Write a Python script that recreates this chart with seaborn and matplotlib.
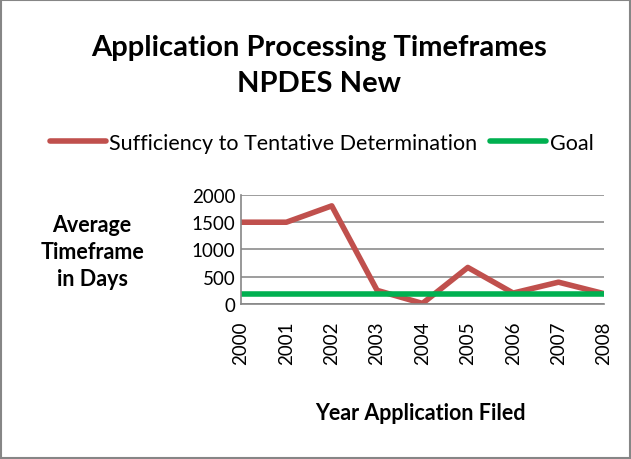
import pandas as pd
import matplotlib
matplotlib.use("Agg")
import matplotlib.pyplot as plt
from matplotlib.lines import Line2D
import seaborn as sns

# data
years = [2000, 2001, 2002, 2003, 2004, 2005, 2006, 2007, 2008]
sufficiency = [1500, 1500, 1800, 250, 10, 670, 200, 400, 190]
goal = [180] * len(years)

df = pd.DataFrame({'Year': years,
                   'Sufficiency to Tentative Determination': sufficiency,
                   'Goal': goal})
long_df = df.melt(id_vars='Year', var_name='Series', value_name='Days')

sns.set_style("white", {'text.color': 'black', 'xtick.color': 'black', 'ytick.color': 'black'})
plt.rcParams['font.family'] = ['Lato', 'DejaVu Sans']

fig = plt.figure(figsize=(6.31, 4.60), dpi=100)
ax = fig.add_axes([0.382, 0.337, 0.575, 0.237])

palette = {'Sufficiency to Tentative Determination': '#c0504d', 'Goal': '#00b050'}
sns.lineplot(data=long_df, x='Year', y='Days', hue='Series', palette=palette,
             linewidth=4, ax=ax, legend=False, solid_capstyle='round')

ax.set_xlim(2000, 2008)
ax.set_ylim(0, 2000)
ax.set_yticks([0, 500, 1000, 1500, 2000])
ax.set_xticks(years)
ax.set_xticklabels([str(y) for y in years], rotation=90, fontsize=13.5)
ax.tick_params(axis='y', labelsize=13.5, length=0, pad=4, labelcolor='black')
ax.tick_params(axis='x', length=6, color='#868686', width=1.2, pad=6, direction='out',
               labelcolor='black')
ax.grid(axis='y', color='#8c8c8c', linewidth=1.2)
for side in ['top', 'right']:
    ax.spines[side].set_visible(False)
for side in ['left', 'bottom']:
    ax.spines[side].set_color('#868686')
    ax.spines[side].set_linewidth(1.2)
ax.set_xlabel('')
ax.set_ylabel('')

fig.text(0.146, 0.452, 'Average\nTimeframe\nin Days', ha='center', va='center',
         fontsize=15.5, fontweight='bold', linespacing=1.35, color='black')
fig.text(0.666, 0.102, 'Year Application Filed', ha='center', va='center',
         fontsize=15.5, fontweight='bold', color='black')
fig.text(0.505, 0.857, 'Application Processing Timeframes\nNPDES New', ha='center',
         va='center', fontsize=21, fontweight='bold', linespacing=1.5, color='black')

# legend along the top, one row
handles = [Line2D([0], [0], color=palette[k], linewidth=4) for k in palette]
leg = fig.legend(handles, list(palette.keys()), loc='center', bbox_to_anchor=(0.51, 0.687),
                 ncol=2, frameon=False, fontsize=15.5, handlelength=2.6, handletextpad=0.15,
                 columnspacing=0.6)
for t in leg.get_texts():
    t.set_color('black')

fig.patches.append(plt.Rectangle((0.002, 0.002), 0.996, 0.996, transform=fig.transFigure,
                                 fill=False, edgecolor='#868686', linewidth=1.5))

fig.savefig('out.png', dpi=100)
